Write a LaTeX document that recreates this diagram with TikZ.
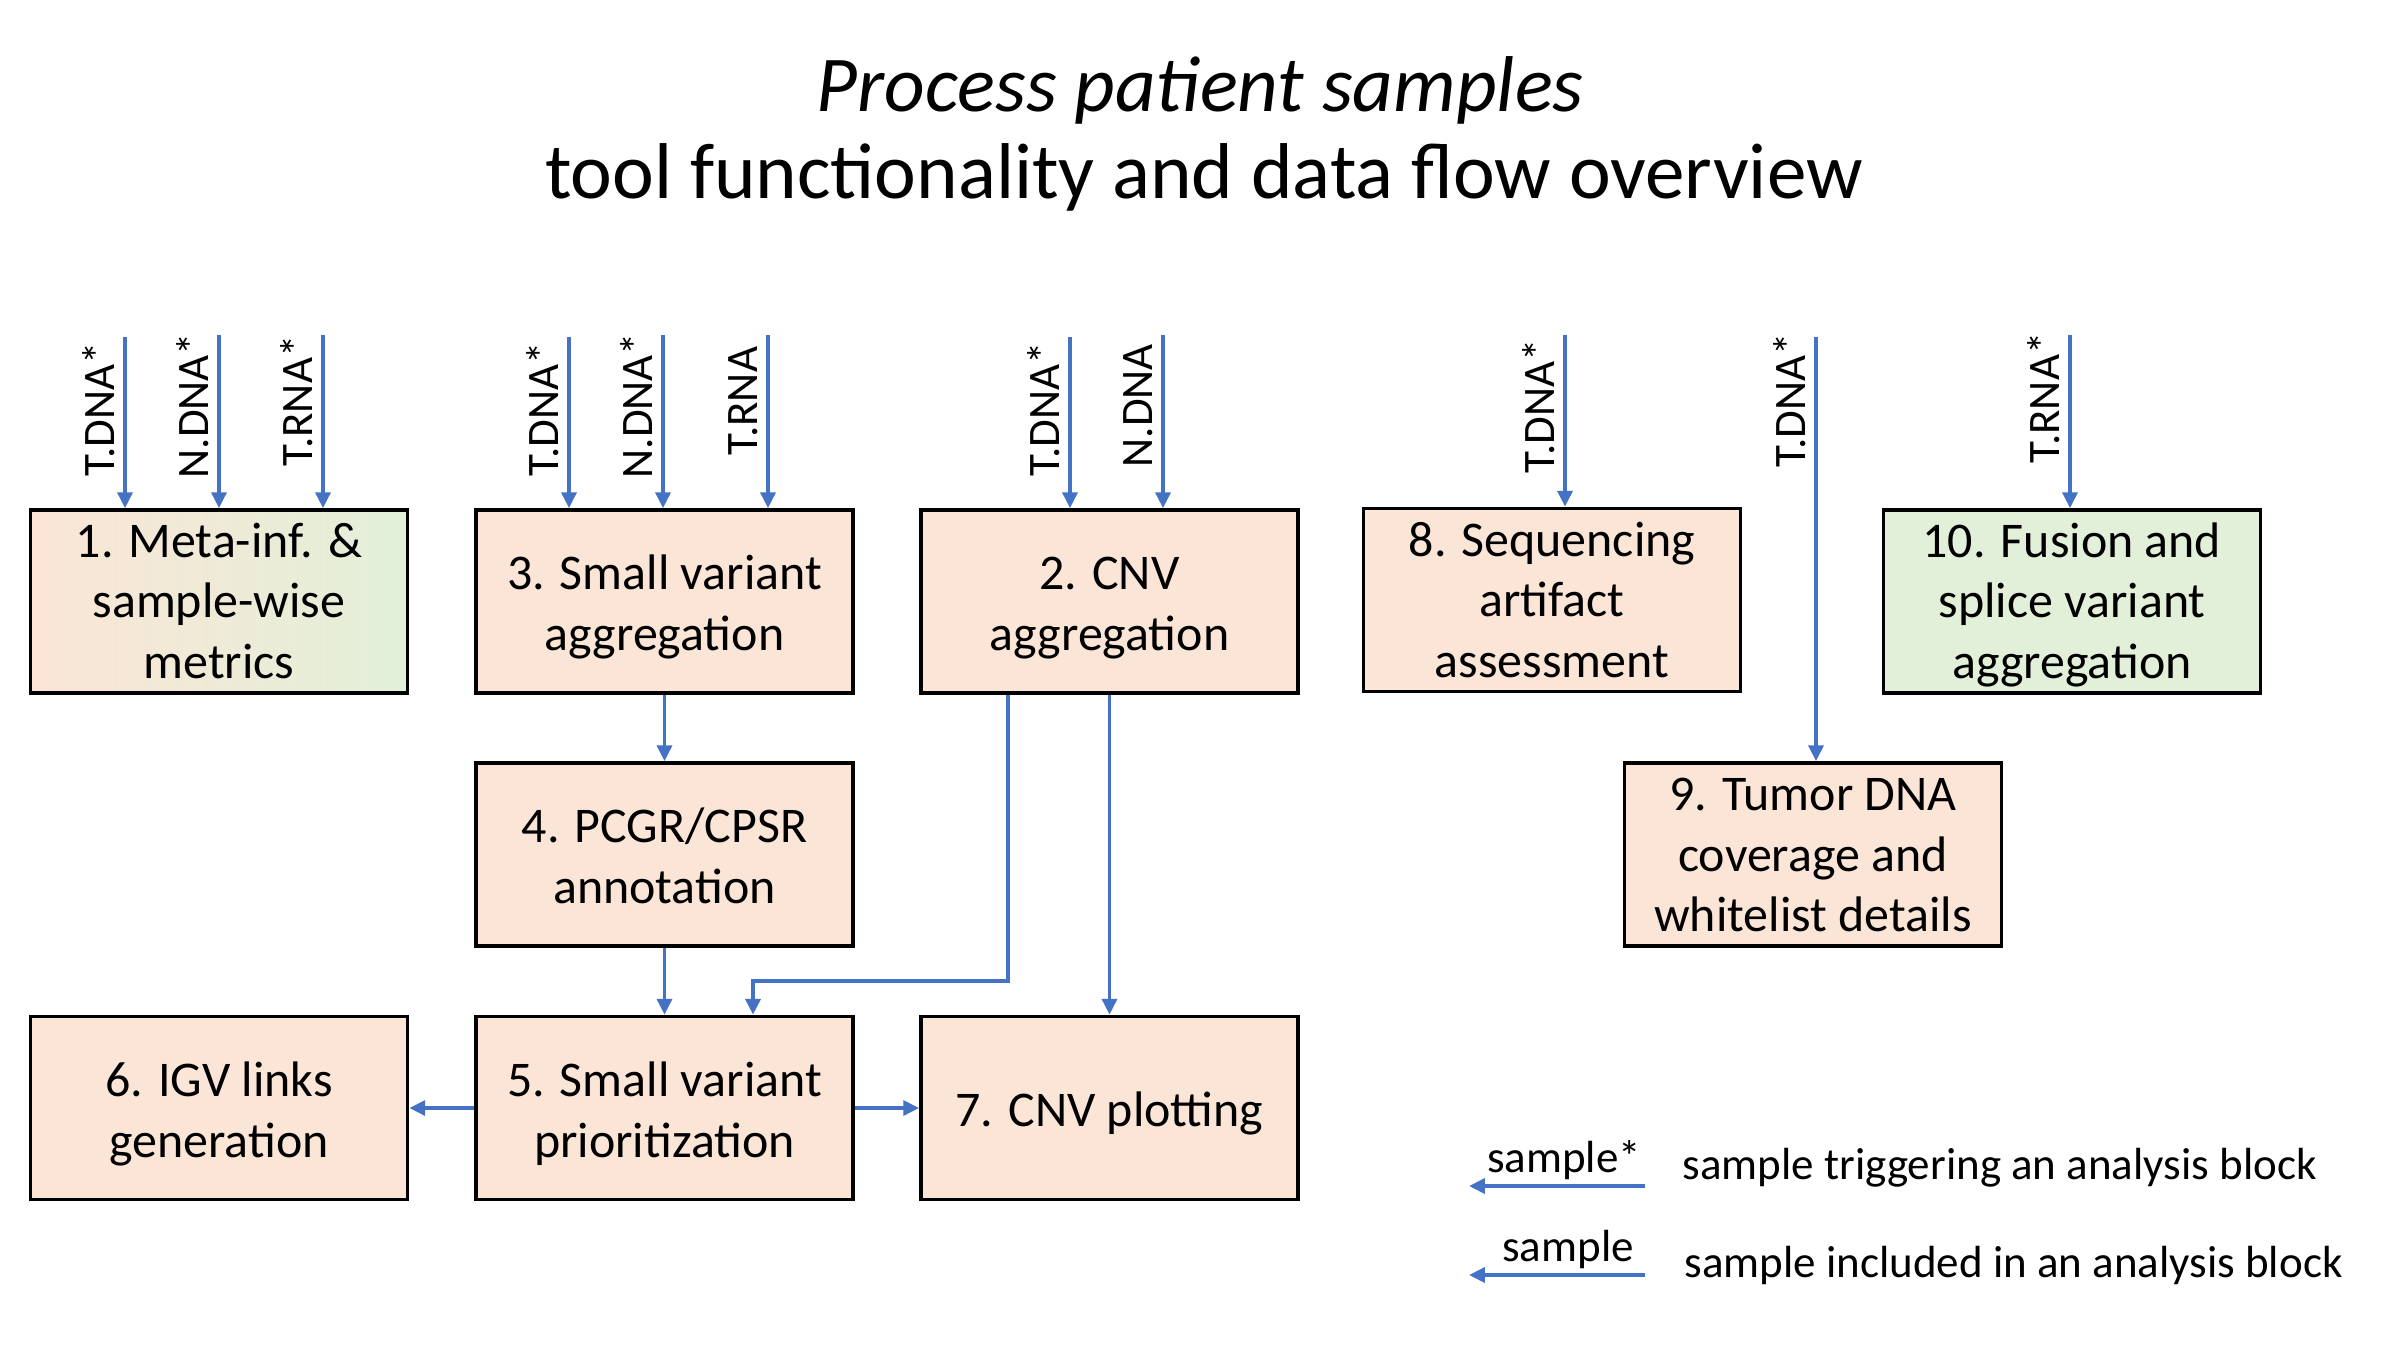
\documentclass[tikz,border=0pt]{standalone}
\usepackage{fontspec}
\setmainfont{Carlito}
\usetikzlibrary{arrows.meta}
\definecolor{peach}{HTML}{FBE5D6}
\definecolor{lgreen}{HTML}{E2F0D9}
\definecolor{oblue}{HTML}{4472C4}
\newcommand{\boxtext}[2][-1.85pt]{\raisebox{#1}[\height][\depth]{\begin{tabular}{@{}c@{}}#2\end{tabular}}}
\tikzset{
  box/.style={draw=black,line width=1pt,fill=peach,minimum width=3.77cm,minimum height=1.83cm,inner sep=0pt,align=center,font=\fontsize{14.2}{17.2}\selectfont},
  flow/.style={draw=oblue,line width=1.1pt,-{Triangle[width=4.2pt,length=4.5pt]}},
  lab/.style={rotate=90,anchor=base west,inner sep=0pt,font=\fontsize{12.8}{15}\selectfont},
  legtext/.style={anchor=west,inner sep=0pt,font=\fontsize{12.8}{15}\selectfont}
}
\begin{document}
\begin{tikzpicture}[x=0.01cm,y=-0.01cm]
\useasboundingbox[fill=white] (0,0) rectangle (2400,1350);
% title
\node (t1) at (1200,90) {\fontsize{22.5}{26}\selectfont\itshape Process patient samples};
\node (t2) at (1204,177) {\fontsize{22.5}{26}\selectfont tool functionality and data flow overview};
% boxes
\node[box,fill=none,left color=peach,right color=lgreen] (b1) at (219,601.5) {\boxtext[-1.15pt]{1. Meta-inf. \&\\sample-wise\\metrics}};
\node[box] (b3) at (664.5,601.5) {\boxtext{3. Small variant\\aggregation}};
\node[box] (b2) at (1109.5,601.5) {\boxtext{2. CNV\\aggregation}};
\node[box] (b8) at (1552,600) {\boxtext[-1.3pt]{8. Sequencing\\artifact\\assessment}};
\node[box,fill=lgreen] (b10) at (2072,601.5) {\boxtext[-1.2pt]{10. Fusion and\\splice variant\\aggregation}};
\node[box] (b4) at (664.5,854.5) {\boxtext{4. PCGR/CPSR\\annotation}};
\node[box] (b9) at (1813,854.5) {\boxtext[-1.3pt]{9. Tumor DNA\\coverage and\\whitelist details}};
\node[box] (b6) at (219,1108) {\boxtext[-2pt]{6. IGV links\\generation}};
\node[box] (b5) at (664.5,1108) {\boxtext[-2pt]{5. Small variant\\prioritization}};
\node[box] (b7) at (1109.5,1108) {\boxtext{7. CNV plotting}};
% input coordinates
\coordinate (i1a) at (125,337);
\coordinate (i1b) at (219,335);
\coordinate (i1c) at (323,335);
\coordinate (i3a) at (569,337);
\coordinate (i3b) at (663,335);
\coordinate (i3c) at (768,335);
\coordinate (i2a) at (1070,337);
\coordinate (i2b) at (1163,335);
\coordinate (i8) at (1565,335);
\coordinate (i9) at (1816,337);
\coordinate (i10) at (2070,335);
\foreach \c/\b in {i1a/b1,i1b/b1,i1c/b1,i3a/b3,i3b/b3,i3c/b3,i2a/b2,i2b/b2,i8/b8,i9/b9,i10/b10}
  \draw[flow] (\c) -- (\c |- \b.north);
% input labels
\node[lab] (l1a) at (114,477) {T.DNA*};
\node[lab] (l1b) at (208,479) {N.DNA*};
\node[lab] (l1c) at (312,467) {T.RNA*};
\node[lab] (l3a) at (558,477) {T.DNA*};
\node[lab] (l3b) at (652,479) {N.DNA*};
\node[lab] (l3c) at (757,456) {T.RNA};
\node[lab] (l2a) at (1059,477) {T.DNA*};
\node[lab] (l2b) at (1152,468) {N.DNA};
\node[lab] (l8) at (1554,474) {T.DNA*};
\node[lab] (l9) at (1805,468) {T.DNA*};
\node[lab] (l10) at (2059,464) {T.RNA*};
% internal flows
\draw[flow] (b3.south) -- (b4.north);
\draw[flow] (b4.south) -- (b5.north);
\coordinate (c2a) at (1008,981);
\coordinate (c2b) at (753,981);
\draw[flow] (b2.south -| c2a) -- (c2a) -- (c2b) -- (c2b |- b5.north);
\draw[flow] (b2.south) -- (b7.north);
\draw[flow] (b5.west) -- (b6.east);
\draw[flow] (b5.east) -- (b7.west);
% legend
\coordinate (g1s) at (1645,1186);
\coordinate (g1e) at (1469,1186);
\coordinate (g2s) at (1645,1275);
\coordinate (g2e) at (1469,1275);
\draw[flow] (g1s) -- (g1e);
\draw[flow] (g2s) -- (g2e);
\node[anchor=south,inner sep=1.5pt,font=\fontsize{12.8}{15}\selectfont] (g1l) at (1564,1186) {sample*};
\node[anchor=south,inner sep=1.5pt,font=\fontsize{12.8}{15}\selectfont] (g2l) at (1568,1275) {sample};
\node[legtext] (g1t) at (1682,1168) {sample triggering an analysis block};
\node[legtext] (g2t) at (1684,1265) {sample included in an analysis block};
\end{tikzpicture}
\end{document}
